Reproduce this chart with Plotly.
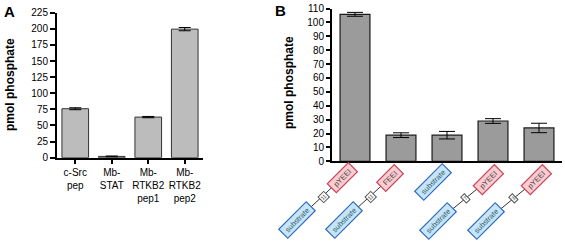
import plotly.graph_objects as go

# ---- data ----
a_labels = ["c-Src<br>pep", "Mb-<br>STAT", "Mb-<br>RTKB2<br>pep1", "Mb-<br>RTKB2<br>pep2"]
a_values = [76, 2, 63, 199.5]
a_errors = [1.5, 0.6, 1.0, 2.5]

b_labels = ["pYEEI-11-substrate", "FEEI-11-substrate", "substrate", "pYEEI-7-substrate", "pYEEI-3-substrate"]
b_values = [105.8, 18.8, 18.8, 29.0, 24.0]
b_errors = [1.4, 1.7, 2.7, 1.7, 3.4]

a_ticks = [0, 25, 50, 75, 100, 125, 150, 175, 200, 225]
b_ticks = list(range(0, 111, 10))

# schematic glyphs under panel B: (peptide, linker) per bar; None = substrate only
b_peptide = ["pYEEI", "FEEI", None, "pYEEI", "pYEEI"]
b_linker = ["11", "11", None, "7", "3"]

W, H = 565, 243
FONT = "Arial, Liberation Sans, Helvetica, sans-serif"


def px(x):
    return x / W


def py(y):
    return 1 - y / H


fig = go.Figure()

fig.add_trace(go.Bar(
    x=list(range(len(a_values))), y=a_values,
    error_y=dict(type="data", array=a_errors, color="black", thickness=1, width=6),
    marker=dict(color="#bcbcbc", line=dict(color="#333333", width=1)),
    width=0.73, xaxis="x", yaxis="y", showlegend=False, hoverinfo="skip",
))

fig.add_trace(go.Bar(
    x=list(range(len(b_values))), y=b_values,
    error_y=dict(type="data", array=b_errors, color="black", thickness=1, width=8),
    marker=dict(color="#9b9b9b", line=dict(color="#1a1a1a", width=1.2)),
    width=0.65, xaxis="x2", yaxis="y2", showlegend=False, hoverinfo="skip",
))

axis_common = dict(showline=True, linecolor="black", linewidth=2, showgrid=False,
                   zeroline=False, tickcolor="black", tickwidth=2, automargin=False,
                   tickfont=dict(family=FONT, size=10, color="black"))

fig.update_layout(
    width=W, height=H,
    margin=dict(l=0, r=0, t=0, b=0),
    paper_bgcolor="white", plot_bgcolor="white",
    bargap=0,
    xaxis=dict(domain=[px(57), px(203)], range=[-0.5, 3.5], anchor="y", ticks="outside",
               tickmode="array", tickvals=list(range(len(a_labels))), ticktext=a_labels,
               ticklen=4, **axis_common),
    yaxis=dict(domain=[py(157.7), py(12.7)], range=[0, 225], anchor="x", ticks="outside",
               tickmode="array", tickvals=a_ticks, ticklen=5, **axis_common),
    xaxis2=dict(domain=[px(332), px(562)], range=[-0.5, 4.5], anchor="y2",
                showticklabels=False, ticks="", **axis_common),
    yaxis2=dict(domain=[py(161.3), py(8.5)], range=[0, 110], anchor="x2", ticks="outside",
                tickmode="array", tickvals=b_ticks, ticklen=4, **axis_common),
)


def note(text, xy, size, angle=0, **kw):
    return dict(text=text, x=px(xy[0]), y=py(xy[1]), xref="paper", yref="paper",
                xanchor="center", yanchor="middle", showarrow=False, textangle=angle,
                font=dict(family=FONT, size=size, color=kw.pop("color", "black")), **kw)


annotations = [
    note("<b>A</b>", (9, 11), 15),
    note("<b>B</b>", (280, 10), 15),
    note("<b>pmol phosphate</b>", (10, 85), 12, -90),
    note("<b>pmol phosphate</b>", (289, 83), 12, -90),
]

shapes = []

# glyph layout (pixel positions of the schematic drawings)
pep_pos = [(342, 178), (390, 178), None, (488, 180), (536, 180)]
link_pos = [(323, 197), (370, 197), None, (465, 198), (513, 198)]
sub_pos = [(297, 220), (344, 220), (433, 182), (438, 221), (486, 221)]


for i in range(len(b_values)):
    s = sub_pos[i]
    if b_peptide[i] is not None:
        p = pep_pos[i]
        shapes.append(dict(type="line", xref="paper", yref="paper",
                           x0=px(s[0]), y0=py(s[1]), x1=px(p[0]), y1=py(p[1]),
                           line=dict(color="#333333", width=1)))
    annotations.append(note(" substrate ", s, 7.5, -45, color="#2f5a70",
                            bgcolor="#c6e6f7", bordercolor="#2a66c0",
                            borderwidth=1.2, borderpad=1.5))
    if b_peptide[i] is not None:
        annotations.append(note(" " + b_peptide[i] + " ", pep_pos[i], 7.5, -45,
                                color="#5a3a3a", bgcolor="#f6cdd3", bordercolor="#cc4455",
                                borderwidth=1.2, borderpad=1.5))
        annotations.append(note(b_linker[i], link_pos[i], 5.5, -45, color="#333333",
                                bgcolor="white", bordercolor="#555555",
                                borderwidth=1, borderpad=0.5))

fig.update_layout(annotations=annotations, shapes=shapes)

fig.write_html("out.html",
               config={"displayModeBar": False, "staticPlot": True},
               post_script="document.body.style.margin='0';document.body.style.padding='0';")
